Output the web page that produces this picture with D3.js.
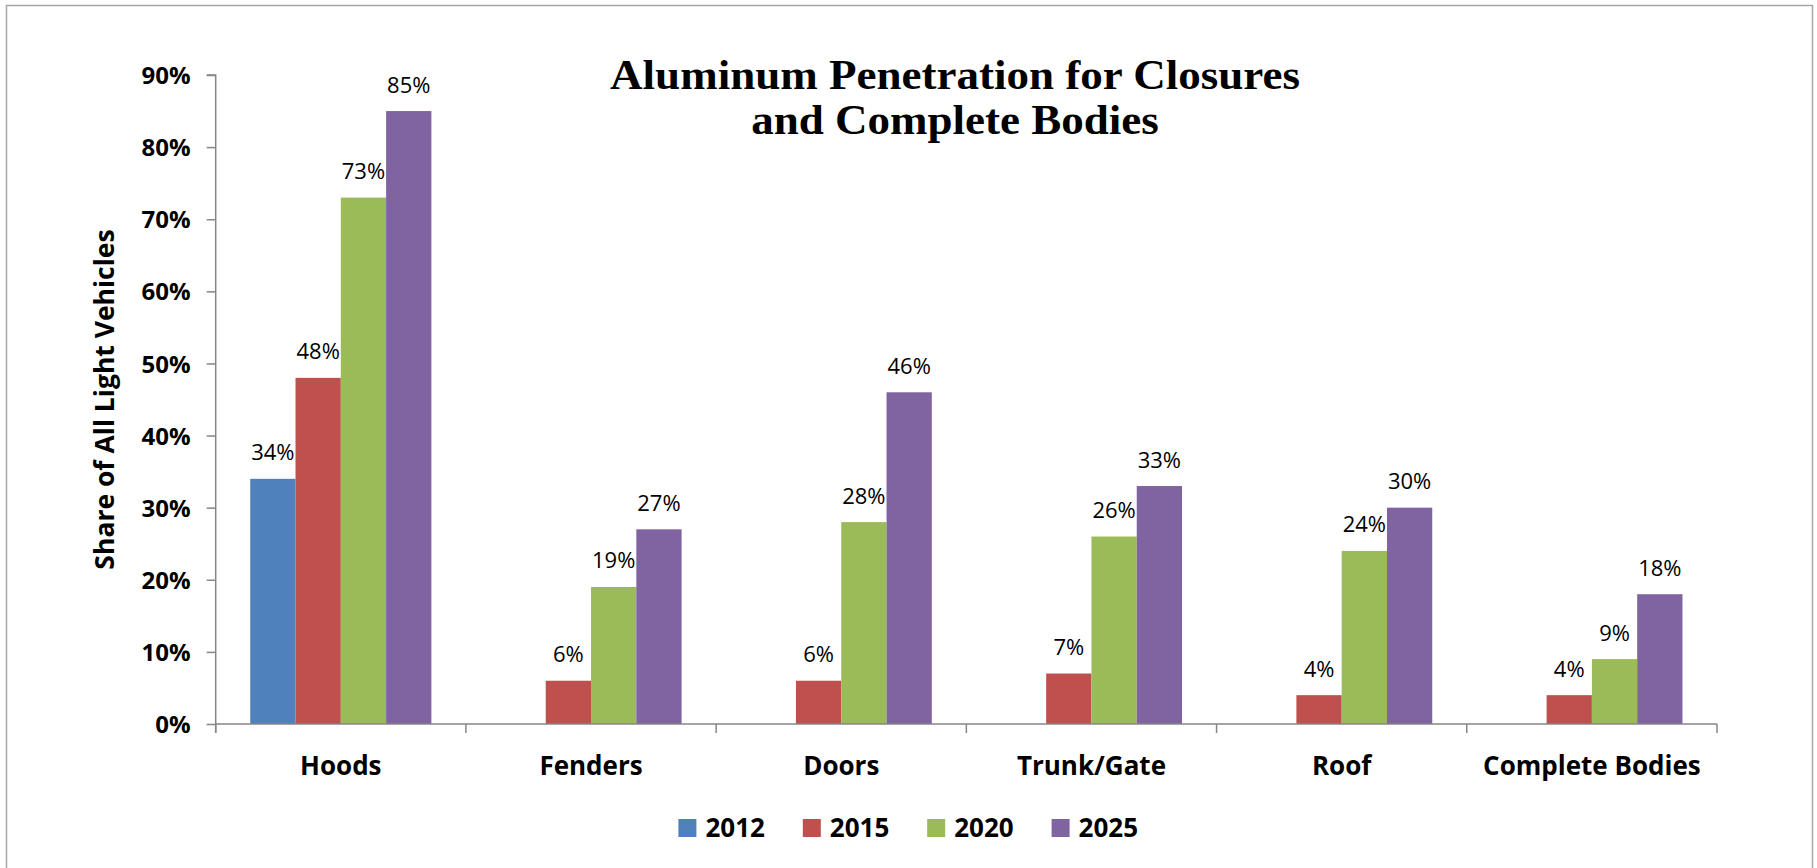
<!DOCTYPE html>
<html>
<head>
<meta charset="utf-8">
<script src="https://cdn.jsdelivr.net/npm/d3@7"></script>
<style>
  html, body { margin: 0; padding: 0; background: #fff; }
  svg text { font-family: "Open Sans", Lato, sans-serif; fill: #000; }
</style>
</head>
<body>
<div id="chart"></div>
<script>
const categories = ["Hoods", "Fenders", "Doors", "Trunk/Gate", "Roof", "Complete Bodies"];
const years = ["2012", "2015", "2020", "2025"];
const v2012 = [34, 0, 0, 0, 0, 0];
const v2015 = [48, 6, 6, 7, 4, 4];
const v2020 = [73, 19, 28, 26, 24, 9];
const v2025 = [85, 27, 46, 33, 30, 18];
const yTicks = [0, 10, 20, 30, 40, 50, 60, 70, 80, 90];
const titleLines = ["Aluminum Penetration for Closures", "and Complete Bodies"];
const yTitle = "Share of All Light Vehicles";

const seriesByYear = [v2012, v2015, v2020, v2025];
const colors = ["#4F81BD", "#C0504D", "#9BBB59", "#8064A2"];

const W = 1817, H = 868;
const pLeft = 215.7, pRight = 1717, pTop = 75, pBottom = 724;

const svg = d3.select("#chart").append("svg")
  .attr("width", W).attr("height", H);

// outer frame
svg.append("rect")
  .attr("x", 6.5).attr("y", 5.5)
  .attr("width", 1806).attr("height", 880)
  .attr("fill", "#fff")
  .attr("stroke", "#a6a6a6").attr("stroke-width", 1.5);

const x0 = d3.scaleBand().domain(categories).range([pLeft, pRight]).padding(0);
const bw = x0.bandwidth();
const gap = bw * 0.138;
const x1 = d3.scaleBand().domain(years).range([gap, bw - gap]).padding(0);
const y = d3.scaleLinear().domain([0, 90]).range([pBottom, pTop]);
const color = d3.scaleOrdinal().domain(years).range(colors);

// bars
const rows = [];
categories.forEach((c, i) => {
  years.forEach((yr, j) => rows.push({ cat: c, year: yr, value: seriesByYear[j][i] }));
});

const g = svg.append("g");
g.selectAll("rect.bar")
  .data(rows.filter(d => d.value > 0))
  .enter().append("rect")
  .attr("class", "bar")
  .attr("x", d => x0(d.cat) + x1(d.year))
  .attr("y", d => y(d.value))
  .attr("width", x1.bandwidth())
  .attr("height", d => y(0) - y(d.value))
  .attr("fill", d => color(d.year));

g.selectAll("text.lbl")
  .data(rows.filter(d => d.value > 0))
  .enter().append("text")
  .attr("class", "lbl")
  .attr("x", d => x0(d.cat) + x1(d.year) + x1.bandwidth() / 2)
  .attr("y", d => y(d.value) - 18.5)
  .attr("text-anchor", "middle")
  .style("font-size", "22px")
  .text(d => d.value + "%");

// y axis
const yAxis = d3.axisLeft(y).tickValues(yTicks).tickSize(9).tickPadding(16)
  .tickFormat(d => d + "%");
const ya = svg.append("g").attr("transform", "translate(" + pLeft + ",0)").call(yAxis);
ya.select(".domain").attr("stroke", "#868686").attr("stroke-width", 1.5)
  .attr("d", "M-9," + pTop + "H0V" + (pBottom + 9));
ya.selectAll(".tick line").attr("stroke", "#868686").attr("stroke-width", 1.5);
ya.selectAll(".tick text").style("font-size", "24px").style("font-weight", "bold")
  .attr("font-family", null).attr("dy", "0.36em");

// x axis
const xa = svg.append("g").attr("transform", "translate(0," + pBottom + ")");
xa.append("line").attr("x1", pLeft).attr("x2", pRight).attr("y1", 0).attr("y2", 0)
  .attr("stroke", "#868686").attr("stroke-width", 1.5);
const bounds = categories.map(c => x0(c)).concat([pRight]);
xa.selectAll("line.tk").data(bounds).enter().append("line")
  .attr("class", "tk")
  .attr("x1", d => d).attr("x2", d => d).attr("y1", 0).attr("y2", 9)
  .attr("stroke", "#868686").attr("stroke-width", 1.5);
xa.selectAll("text.cat").data(categories).enter().append("text")
  .attr("class", "cat")
  .attr("x", d => x0(d) + bw / 2)
  .attr("y", 51)
  .attr("text-anchor", "middle")
  .style("font-size", "26px").style("font-weight", "bold")
  .text(d => d);

// y title
svg.append("text")
  .attr("transform", "translate(114," + ((pTop + pBottom) / 2) + ") rotate(-90)")
  .attr("text-anchor", "middle")
  .style("font-size", "26.5px").style("font-weight", "bold")
  .text(yTitle);

// title
const tg = svg.append("g");
const tt = tg.selectAll("text.title").data(titleLines).enter().append("text")
  .attr("class", "title")
  .attr("x", 0)
  .attr("y", (d, i) => 89 + i * 45)
  .attr("text-anchor", "middle")
  .style("font-family", "'Liberation Serif', 'DejaVu Serif', serif")
  .style("font-size", "43px").style("font-weight", "bold")
  .text(d => d);
const w0 = tt.nodes()[0].getComputedTextLength();
const sx = 690 / w0;
tg.attr("transform", "translate(955,0) scale(" + sx + ",1)");

// legend
const legW = 124.4;
const leg = svg.append("g")
  .attr("transform", "translate(" + (910 - (legW * 3 + 90) / 2) + ",0)");
const li = leg.selectAll("g").data(years).enter().append("g")
  .attr("transform", (d, i) => "translate(" + (i * legW) + ",0)");
li.append("rect").attr("x", 0).attr("y", 819).attr("width", 18).attr("height", 18)
  .attr("fill", d => color(d));
li.append("text").attr("x", 27).attr("y", 837)
  .style("font-size", "26px").style("font-weight", "bold")
  .text(d => d);
</script>
</body>
</html>
